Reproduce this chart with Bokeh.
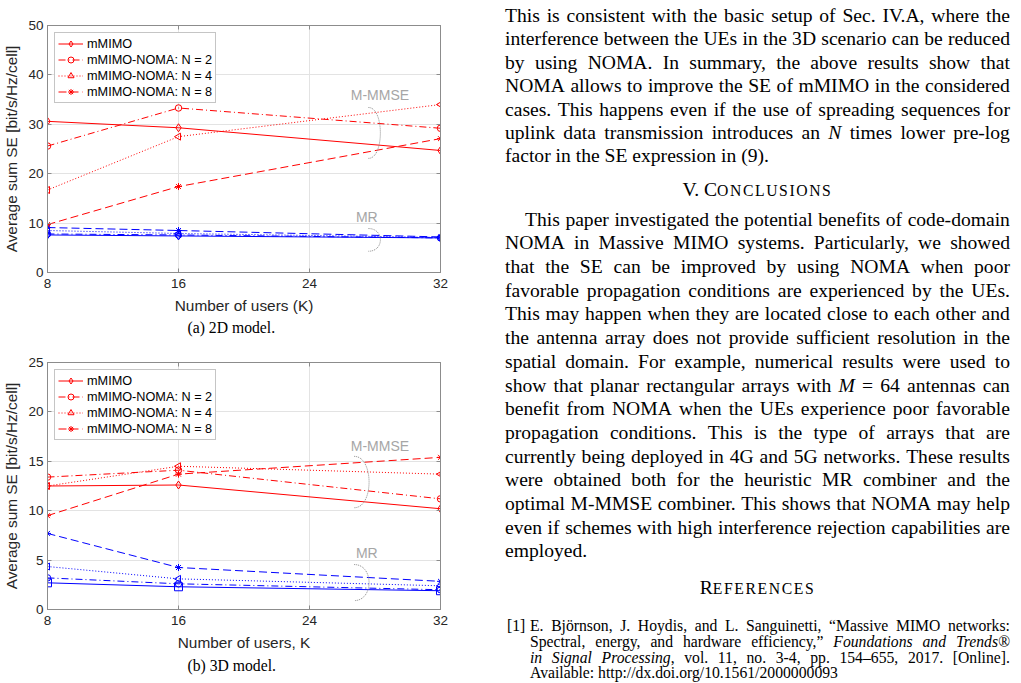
from bokeh.plotting import figure
from bokeh.models import (LinearAxis, FixedTicker, Legend, LegendItem, Title,
                          Div, Label, Range1d)
from bokeh.layouts import row, column
from bokeh.embed import file_html
from bokeh.resources import INLINE

# ---------------- data ----------------
K = [8, 16, 32]
x_ticks = [8, 16, 24, 32]
y_ticks_2d = [0, 10, 20, 30, 40, 50]
y_ticks_3d = [0, 5, 10, 15, 20, 25]
series_labels = ["mMIMO", "mMIMO-NOMA: N = 2", "mMIMO-NOMA: N = 4", "mMIMO-NOMA: N = 8"]

# 2D model, M-MMSE (red)
mmse_2d_mmimo = [30.6, 29.3, 24.7]
mmse_2d_n2 = [25.6, 33.3, 29.2]
mmse_2d_n4 = [16.7, 27.5, 34.0]
mmse_2d_n8 = [9.7, 17.4, 27.1]
# 2D model, MR (blue)
mr_2d_mmimo = [7.6, 7.4, 7.0]
mr_2d_n2 = [7.8, 7.6, 7.0]
mr_2d_n4 = [8.5, 7.9, 7.1]
mr_2d_n8 = [9.1, 8.5, 7.2]

# 3D model, M-MMSE (red)
mmse_3d_mmimo = [12.5, 12.6, 10.2]
mmse_3d_n2 = [13.4, 14.1, 11.2]
mmse_3d_n4 = [12.5, 14.5, 13.7]
mmse_3d_n8 = [9.5, 13.7, 15.4]
# 3D model, MR (blue)
mr_3d_mmimo = [2.7, 2.3, 1.9]
mr_3d_n2 = [3.2, 2.6, 2.0]
mr_3d_n4 = [4.35, 3.1, 2.4]
mr_3d_n8 = [7.7, 4.25, 2.85]

# ---------------- page text ----------------
para1_lines = [
    "This is consistent with the basic setup of Sec. IV.A, where the",
    "interference between the UEs in the 3D scenario can be reduced",
    "by using NOMA. In summary, the above results show that",
    "NOMA allows to improve the SE of mMIMO in the considered",
    "cases. This happens even if the use of spreading sequences for",
    "uplink data transmission introduces an <i>N</i> times lower pre-log",
    "factor in the SE expression in (9).",
]
heading_1 = ("V. C", "ONCLUSIONS")
para2_lines = [
    "This paper investigated the potential benefits of code-domain",
    "NOMA in Massive MIMO systems. Particularly, we showed",
    "that the SE can be improved by using NOMA when poor",
    "favorable propagation conditions are experienced by the UEs.",
    "This may happen when they are located close to each other and",
    "the antenna array does not provide sufficient resolution in the",
    "spatial domain. For example, numerical results were used to",
    "show that planar rectangular arrays with <i>M</i> = 64 antennas can",
    "benefit from NOMA when the UEs experience poor favorable",
    "propagation conditions. This is the type of arrays that are",
    "currently being deployed in 4G and 5G networks. These results",
    "were obtained both for the heuristic MR combiner and the",
    "optimal M-MMSE combiner. This shows that NOMA may help",
    "even if schemes with high interference rejection capabilities are",
    "employed.",
]
heading_2 = ("R", "EFERENCES")
ref_tag = "[1]"
ref_lines = [
    "E. Björnson, J. Hoydis, and L. Sanguinetti, “Massive MIMO networks:",
    "Spectral, energy, and hardware efficiency,” <i>Foundations</i> <i>and</i> <i>Trends®</i>",
    "<i>in</i> <i>Signal</i> <i>Processing</i>, vol. 11, no. 3-4, pp. 154–655, 2017. [Online].",
    "Available: http://dx.doi.org/10.1561/2000000093",
]

RED = "#ff0000"
BLUE = "#0000ff"
DASHES = ["solid", "7 3 1 3", "1 2", "8 4"]
MARKERS = ["diamond", "circle", "triangle", "asterisk"]
ANGLES = [0, 0, 1.5708, 0]
SIZES = [8, 6.5, 7, 7]
AXIS_GRAY = "#8c8c8c"
TEXT_DARK = "#262626"
NOTE_GRAY = "#a6a6a6"


def make_fig(height, b_top, b_bottom, y_max, y_ticks, xlabel, caption, cap_standoff,
             red_series, blue_series, blue_markers, notes):
    p = figure(width=470, height=height, x_range=Range1d(8, 32), y_range=Range1d(0, y_max),
               output_backend="svg", toolbar_location=None,
               min_border_left=44, min_border_right=30,
               min_border_top=b_top, min_border_bottom=b_bottom,
               background_fill_color="white", border_fill_color="white")
    p.outline_line_color = AXIS_GRAY
    p.xaxis.ticker = FixedTicker(ticks=x_ticks)
    p.yaxis.ticker = FixedTicker(ticks=y_ticks)
    p.xgrid.ticker = FixedTicker(ticks=x_ticks)
    p.ygrid.ticker = FixedTicker(ticks=y_ticks)
    p.xgrid.grid_line_color = "#e3e3e3"
    p.ygrid.grid_line_color = "#e3e3e3"

    for ax in (p.xaxis[0], p.yaxis[0]):
        ax.major_tick_in = 4
        ax.major_tick_out = 0
        ax.minor_tick_line_color = None
        ax.axis_line_color = AXIS_GRAY
        ax.major_tick_line_color = AXIS_GRAY
        ax.major_label_text_font = "Liberation Sans"
        ax.major_label_text_font_size = "13.5px"
        ax.major_label_text_color = TEXT_DARK
        ax.axis_label_text_font = "Liberation Sans"
        ax.axis_label_text_font_size = "15.4px"
        ax.axis_label_text_font_style = "normal"
        ax.axis_label_text_color = TEXT_DARK
    p.xaxis.axis_label = xlabel
    p.yaxis.axis_label = "Average sum SE [bit/s/Hz/cell]"
    p.xaxis.major_label_standoff = 6
    p.xaxis.axis_label_standoff = 6
    p.yaxis.major_label_standoff = 4
    p.yaxis.axis_label_standoff = 5

    # tick marks only (no labels) on the top and right edges
    for side, ticks in (("above", x_ticks), ("right", y_ticks)):
        ax = LinearAxis(ticker=FixedTicker(ticks=ticks), major_label_text_color=None,
                        major_label_text_font_size="6px", major_label_standoff=0,
                        major_tick_in=4, major_tick_out=0, minor_tick_line_color=None,
                        axis_line_color=AXIS_GRAY, major_tick_line_color=AXIS_GRAY)
        p.add_layout(ax, side)

    # MR (blue) curves
    for i, ys in enumerate(blue_series):
        p.line(K, ys, line_color=BLUE, line_width=1, line_dash=DASHES[i])
        p.scatter(K, ys, marker=blue_markers[i], size=SIZES[i], angle=ANGLES[i],
                  line_color=BLUE, fill_color=None, line_width=1)

    # M-MMSE (red) curves with legend
    items = []
    for i, ys in enumerate(red_series):
        ln = p.line(K, ys, line_color=RED, line_width=1, line_dash=DASHES[i])
        sc = p.scatter(K, ys, marker=MARKERS[i], size=SIZES[i], angle=ANGLES[i],
                       line_color=RED, fill_color=None, line_width=1)
        items.append(LegendItem(label=series_labels[i], renderers=[ln, sc]))

    legend = Legend(items=items, location="top_left", margin=7, padding=3, spacing=1,
                    label_height=15, glyph_height=15, glyph_width=25, label_standoff=4,
                    label_text_font="Liberation Sans", label_text_font_size="12.7px",
                    label_text_color="black", border_line_color=AXIS_GRAY,
                    background_fill_color="white", background_fill_alpha=1)
    p.add_layout(legend)

    # group annotations (M-MMSE / MR with dotted brackets)
    for (txt, tx, ty, bx, bctrl, btop, bbot) in notes:
        p.add_layout(Label(x=tx, y=ty, text=txt, text_align="center", text_baseline="middle",
                           text_font="Liberation Sans", text_font_size="14px",
                           text_color=NOTE_GRAY))
        p.bezier(x0=[bx], y0=[btop], x1=[bx], y1=[bbot], cx0=[bctrl], cy0=[btop],
                 cx1=[bctrl], cy1=[bbot], line_color="#8c8c8c", line_width=1, line_dash="1 1")

    p.add_layout(Title(text=caption, align="left", offset=140, standoff=cap_standoff,
                       text_font="Liberation Serif", text_font_size="15.7px",
                       text_font_style="normal", text_color="black"), "below")
    return p


fig_2d = make_fig(340, 25, 68, 50, y_ticks_2d, "Number of users (K)", "(a) 2D model.", 0,
                  [mmse_2d_mmimo, mmse_2d_n2, mmse_2d_n4, mmse_2d_n8],
                  [mr_2d_mmimo, mr_2d_n2, mr_2d_n4, mr_2d_n8],
                  ["diamond", "circle", "triangle", "asterisk"],
                  [("M-MMSE", 28.3, 36.0, 27.6, 28.57, 33.4, 23.1),
                   ("MR", 27.5, 11.3, 27.6, 28.57, 8.9, 4.3)])

fig_3d = make_fig(343, 22, 74, 25, y_ticks_3d, "Number of users, K", "(b) 3D model.", 3,
                  [mmse_3d_mmimo, mmse_3d_n2, mmse_3d_n4, mmse_3d_n8],
                  [mr_3d_mmimo, mr_3d_n2, mr_3d_n4, mr_3d_n8],
                  ["square", "circle", "triangle", "asterisk"],
                  [("M-MMSE", 28.3, 16.5, 26.73, 27.94, 15.5, 10.3),
                   ("MR", 27.5, 5.7, 26.73, 27.94, 4.55, 0.9)])

# ---------------- right column (HTML text) ----------------
parts = []
FS = 19.6
RFS = 15.7
SERIF = "font-family:'Liberation Serif','Times New Roman',serif;"


def just_line(text, left, width, baseline, fs):
    top = baseline - 0.8375 * fs
    spans = "".join(f'<span style="flex:none;white-space:nowrap;">{w}</span>'
                    for w in text.split(" "))
    parts.append(
        f'<div style="position:absolute;left:{left}px;top:{top:.1f}px;width:{width}px;'
        f'height:{fs}px;{SERIF}font-size:{fs}px;line-height:{fs}px;'
        f'display:flex;flex-wrap:nowrap;justify-content:space-between;white-space:nowrap;'
        f'color:#000;">{spans}</div>')


def plain_line(text, left, width, baseline, fs, extra=""):
    top = baseline - 0.8375 * fs
    parts.append(
        f'<div style="position:absolute;left:{left}px;top:{top:.1f}px;width:{width}px;'
        f'{SERIF}font-size:{fs}px;line-height:{fs}px;'
        f'white-space:nowrap;color:#000;{extra}">{text}</div>')


def heading(pair, baseline):
    big, small = pair
    txt = (f'{big}<span style="font-size:{FS * 0.8:.1f}px;letter-spacing:1.6px;">'
           f'{small}</span>')
    plain_line(txt, L, W, baseline, FS, "text-align:center;")


L, W = 35, 505
for i, t in enumerate(para1_lines):
    b = 22.3 + 23.4 * i
    if i < len(para1_lines) - 1:
        just_line(t, L, W, b, FS)
    else:
        plain_line(t, L, W, b, FS)
heading(heading_1, 196.7)
for i, t in enumerate(para2_lines):
    b = 226 + 23.7 * i
    left, width = (L + 20, W - 20) if i == 0 else (L, W)
    if i < len(para2_lines) - 1:
        just_line(t, left, width, b, FS)
    else:
        plain_line(t, left, width, b, FS)
heading(heading_2, 594)
plain_line(ref_tag, 37, 30, 631, RFS)
for i, t in enumerate(ref_lines):
    b = 631 + 15.8 * i
    if i < len(ref_lines) - 1:
        just_line(t, 60, 480, b, RFS)
    else:
        plain_line(t, 60, 480, b, RFS)

html = ('<div style="position:relative;width:551px;height:683px;background:#fff;overflow:hidden;">'
        + "".join(parts) + "</div>")
text_div = Div(text=html, width=551, height=683, margin=(0, 0, 0, 0))

layout = row(column(fig_2d, fig_3d, spacing=0), text_div, spacing=0)

open("out.html", "w").write(file_html(layout, INLINE))
